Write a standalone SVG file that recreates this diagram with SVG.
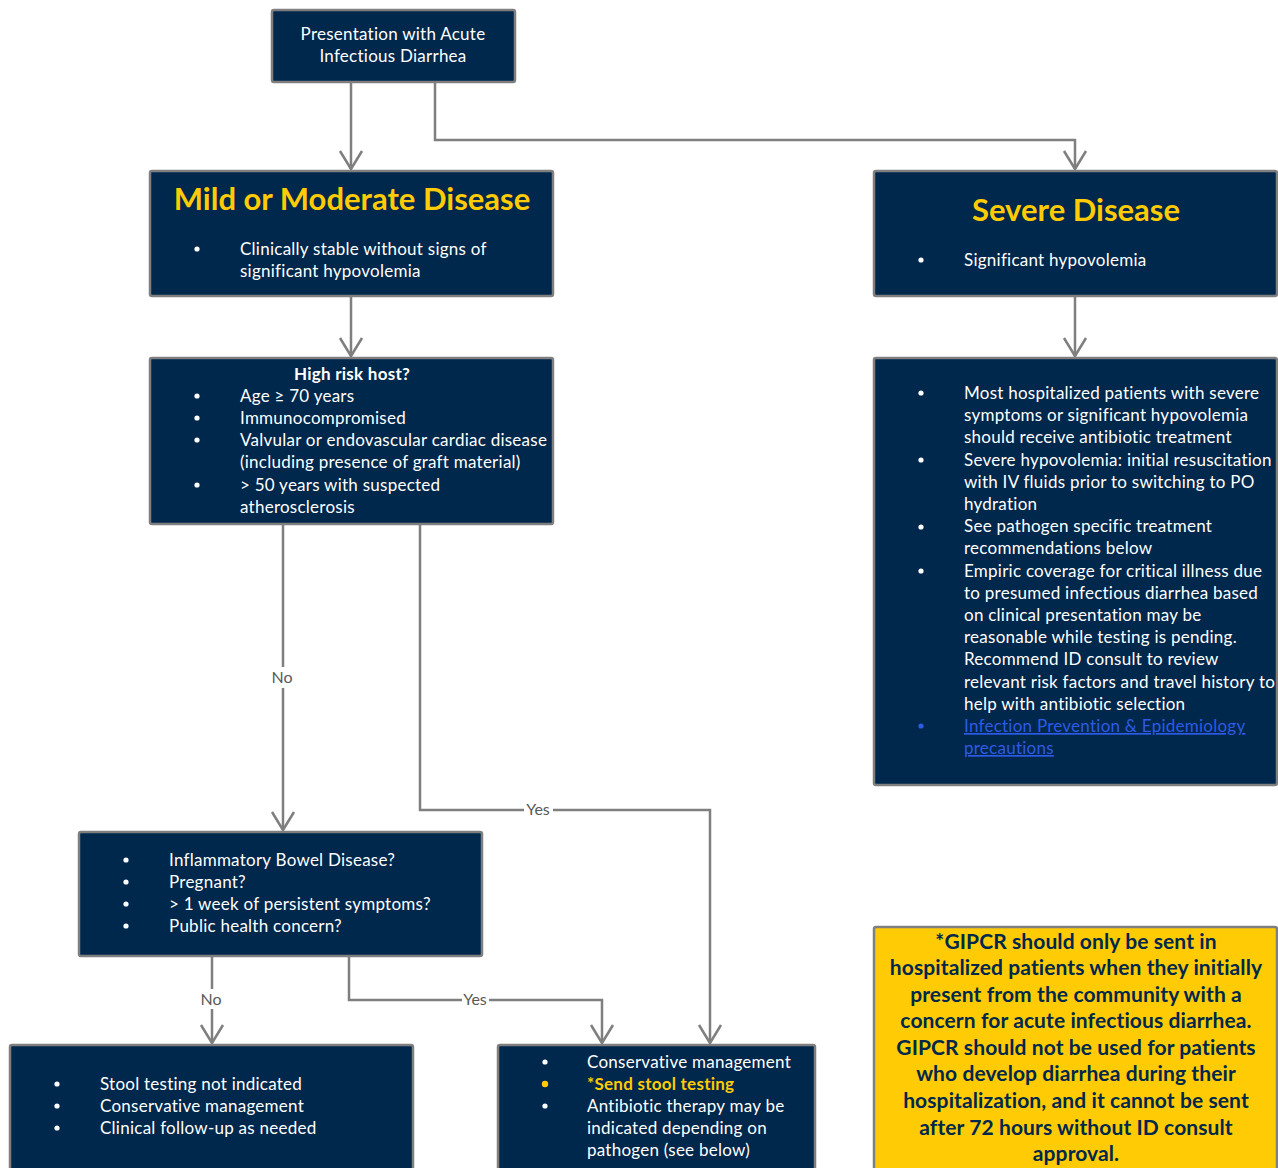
<svg xmlns="http://www.w3.org/2000/svg" width="1278" height="1168" viewBox="0 0 1278 1168">
<defs>
<style>
.box{fill:#00274C;stroke:#7F7F7F;stroke-width:2.5}
.note{fill:#FFCB05;stroke:#7F7F7F;stroke-width:2.5}
.t{font-family:Lato,"Liberation Sans",sans-serif;font-size:17px;letter-spacing:0.25px;fill:#FFFFFF}
.c{text-anchor:middle}
.b{font-weight:bold}
.title{font-family:Lato,"Liberation Sans",sans-serif;font-size:31px;font-weight:bold;fill:#FFCB05;text-anchor:middle}
.nt{font-family:Lato,"Liberation Sans",sans-serif;font-size:21px;letter-spacing:0.1px;font-weight:bold;fill:#00274C;text-anchor:middle}
.lbl{font-family:Lato,"Liberation Sans",sans-serif;font-size:16px;fill:#595959;text-anchor:middle}
.link{fill:#2D5BE3;text-decoration:underline}
.con{fill:none;stroke:#7F7F7F;stroke-width:2.5}
.dot{fill:#FFFFFF}
</style>
<marker id="arr" viewBox="-22 -14 26 28" markerWidth="26" markerHeight="28" refX="0" refY="0" orient="auto" markerUnits="userSpaceOnUse">
<path d="M-18,-11 L0,0 L-18,11" fill="none" stroke="#7F7F7F" stroke-width="2.5"/>
</marker>
</defs>

<g id="connectors">
<path class="con" d="M351,82 V169" marker-end="url(#arr)"/>
<path class="con" d="M435,82 V140 H1075 V169" marker-end="url(#arr)"/>
<path class="con" d="M351,296 V356" marker-end="url(#arr)"/>
<path class="con" d="M1075,296 V356" marker-end="url(#arr)"/>
<path class="con" d="M283,524 V667 M283,688 V830" marker-end="url(#arr)"/>
<path class="con" d="M420,524 V810 H524 M553,810 H710 V1043" marker-end="url(#arr)"/>
<path class="con" d="M212,956 V989 M212,1009 V1043" marker-end="url(#arr)"/>
<path class="con" d="M349,956 V1000 H462 M489,1000 H602 V1043" marker-end="url(#arr)"/>
<text class="lbl" x="282" y="683">No</text>
<text class="lbl" x="538" y="815">Yes</text>
<text class="lbl" x="211" y="1005">No</text>
<text class="lbl" x="475" y="1005">Yes</text>
</g>

<g id="presentation">
<rect class="box" x="272" y="10" width="243" height="72" rx="2"/>
<text class="t c" x="393" y="40">Presentation with Acute</text>
<text class="t c" x="393" y="62">Infectious Diarrhea</text>
</g>

<g id="mild">
<rect class="box" x="150" y="171" width="403" height="125" rx="2"/>
<text class="title" x="352" y="210">Mild or Moderate Disease</text>
<circle class="dot" cx="197" cy="249" r="2.6"/>
<text class="t" x="240" y="255">Clinically stable without signs of</text>
<text class="t" x="240" y="277">significant hypovolemia</text>
</g>

<g id="severe">
<rect class="box" x="874" y="171" width="403" height="125" rx="2"/>
<text class="title" x="1076" y="221">Severe Disease</text>
<circle class="dot" cx="921" cy="260" r="2.6"/>
<text class="t" x="964" y="266">Significant hypovolemia</text>
</g>

<g id="highrisk">
<rect class="box" x="150" y="358" width="403" height="166" rx="2"/>
<text class="t c b" x="352" y="380">High risk host?</text>
<circle class="dot" cx="197" cy="396" r="2.6"/>
<circle class="dot" cx="197" cy="418" r="2.6"/>
<circle class="dot" cx="197" cy="440" r="2.6"/>
<circle class="dot" cx="197" cy="485" r="2.6"/>
<text class="t" x="240" y="402">Age ≥ 70 years</text>
<text class="t" x="240" y="424">Immunocompromised</text>
<text class="t" x="240" y="446">Valvular or endovascular cardiac disease</text>
<text class="t" x="240" y="468">(including presence of graft material)</text>
<text class="t" x="240" y="491">&gt; 50 years with suspected</text>
<text class="t" x="240" y="513">atherosclerosis</text>
</g>

<g id="severe-details">
<rect class="box" x="874" y="358" width="403" height="427" rx="2"/>
<circle class="dot" cx="921" cy="393" r="2.6"/>
<circle class="dot" cx="921" cy="460" r="2.6"/>
<circle class="dot" cx="921" cy="527" r="2.6"/>
<circle class="dot" cx="921" cy="571" r="2.6"/>
<circle cx="921" cy="726" r="2.6" fill="#2D5BE3"/>
<text class="t" x="964" y="399">Most hospitalized patients with severe</text>
<text class="t" x="964" y="421">symptoms or significant hypovolemia</text>
<text class="t" x="964" y="443">should receive antibiotic treatment</text>
<text class="t" x="964" y="466">Severe hypovolemia: initial resuscitation</text>
<text class="t" x="964" y="488">with IV fluids prior to switching to PO</text>
<text class="t" x="964" y="510">hydration</text>
<text class="t" x="964" y="532">See pathogen specific treatment</text>
<text class="t" x="964" y="554">recommendations below</text>
<text class="t" x="964" y="577">Empiric coverage for critical illness due</text>
<text class="t" x="964" y="599">to presumed infectious diarrhea based</text>
<text class="t" x="964" y="621">on clinical presentation may be</text>
<text class="t" x="964" y="643">reasonable while testing is pending.</text>
<text class="t" x="964" y="665">Recommend ID consult to review</text>
<text class="t" x="964" y="688">relevant risk factors and travel history to</text>
<text class="t" x="964" y="710">help with antibiotic selection</text>
<text class="t link" x="964" y="732">Infection Prevention &amp; Epidemiology</text>
<text class="t link" x="964" y="754">precautions</text>
</g>

<g id="ibd">
<rect class="box" x="79" y="832" width="403" height="124" rx="2"/>
<circle class="dot" cx="126" cy="860" r="2.6"/>
<circle class="dot" cx="126" cy="882" r="2.6"/>
<circle class="dot" cx="126" cy="904" r="2.6"/>
<circle class="dot" cx="126" cy="926" r="2.6"/>
<text class="t" x="169" y="866">Inflammatory Bowel Disease?</text>
<text class="t" x="169" y="888">Pregnant?</text>
<text class="t" x="169" y="910">&gt; 1 week of persistent symptoms?</text>
<text class="t" x="169" y="932">Public health concern?</text>
</g>

<g id="no-testing">
<rect class="box" x="10" y="1045" width="403" height="135" rx="2"/>
<circle class="dot" cx="57" cy="1084" r="2.6"/>
<circle class="dot" cx="57" cy="1106" r="2.6"/>
<circle class="dot" cx="57" cy="1128" r="2.6"/>
<text class="t" x="100" y="1090">Stool testing not indicated</text>
<text class="t" x="100" y="1112">Conservative management</text>
<text class="t" x="100" y="1134">Clinical follow-up as needed</text>
</g>

<g id="testing">
<rect class="box" x="498" y="1045" width="317" height="135" rx="2"/>
<circle class="dot" cx="545" cy="1062" r="2.6"/>
<circle cx="545" cy="1084" r="3.2" fill="#FFCB05"/>
<circle class="dot" cx="545" cy="1106" r="2.6"/>
<text class="t" x="587" y="1068">Conservative management</text>
<text class="t b" x="587" y="1090" style="fill:#FFCB05">*Send stool testing</text>
<text class="t" x="587" y="1112">Antibiotic therapy may be</text>
<text class="t" x="587" y="1134">indicated depending on</text>
<text class="t" x="587" y="1156">pathogen (see below)</text>
</g>

<g id="gipcr-note">
<rect class="note" x="874" y="927" width="403" height="253" rx="2"/>
<text class="nt" x="1076" y="949">*GIPCR should only be sent in</text>
<text class="nt" x="1076" y="975">hospitalized patients when they initially</text>
<text class="nt" x="1076" y="1002">present from the community with a</text>
<text class="nt" x="1076" y="1028">concern for acute infectious diarrhea.</text>
<text class="nt" x="1076" y="1055">GIPCR should not be used for patients</text>
<text class="nt" x="1076" y="1081">who develop diarrhea during their</text>
<text class="nt" x="1076" y="1108">hospitalization, and it cannot be sent</text>
<text class="nt" x="1076" y="1135">after 72 hours without ID consult</text>
<text class="nt" x="1076" y="1161">approval.</text>
</g>
</svg>
